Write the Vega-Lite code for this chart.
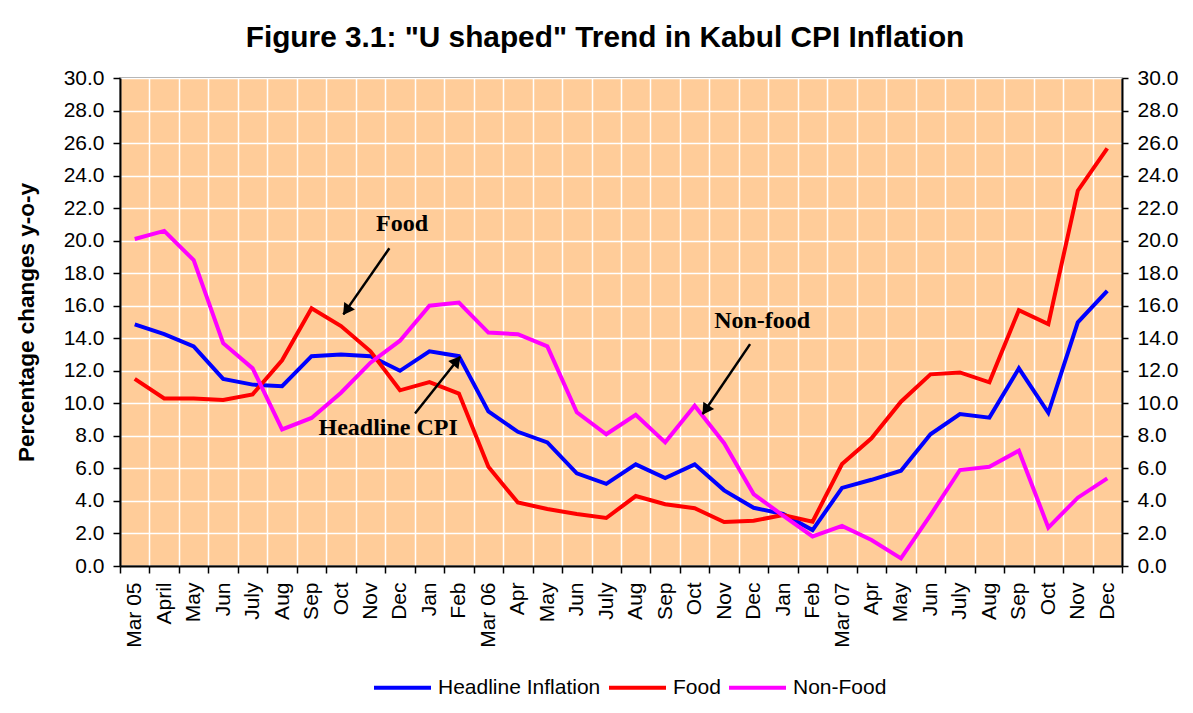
{
  "$schema": "https://vega.github.io/schema/vega-lite/v6.json",
  "width": 1002,
  "height": 488,
  "autosize": {"type": "none"},
  "padding": {"left": 120, "top": 78, "right": 71, "bottom": 147},
  "background": "white",
  "title": {
    "text": "Figure 3.1: \"U shaped\" Trend in Kabul CPI Inflation",
    "font": "Liberation Sans",
    "fontSize": 29.8,
    "fontWeight": "bold",
    "color": "black",
    "anchor": "middle",
    "dx": -16,
    "offset": 14
  },
  "datasets": {
    "cpi": [
      {"i": 0, "Headline Inflation": 14.85, "Food": 11.5, "Non-Food": 20.1},
      {"i": 1, "Headline Inflation": 14.25, "Food": 10.3, "Non-Food": 20.6},
      {"i": 2, "Headline Inflation": 13.5, "Food": 10.3, "Non-Food": 18.8},
      {"i": 3, "Headline Inflation": 11.5, "Food": 10.2, "Non-Food": 13.7},
      {"i": 4, "Headline Inflation": 11.15, "Food": 10.55, "Non-Food": 12.15},
      {"i": 5, "Headline Inflation": 11.05, "Food": 12.65, "Non-Food": 8.4},
      {"i": 6, "Headline Inflation": 12.9, "Food": 15.85, "Non-Food": 9.1},
      {"i": 7, "Headline Inflation": 13.0, "Food": 14.75, "Non-Food": 10.65},
      {"i": 8, "Headline Inflation": 12.9, "Food": 13.2, "Non-Food": 12.5},
      {"i": 9, "Headline Inflation": 12.0, "Food": 10.8, "Non-Food": 13.85},
      {"i": 10, "Headline Inflation": 13.2, "Food": 11.3, "Non-Food": 16.0},
      {"i": 11, "Headline Inflation": 12.9, "Food": 10.6, "Non-Food": 16.2},
      {"i": 12, "Headline Inflation": 9.5, "Food": 6.1, "Non-Food": 14.35},
      {"i": 13, "Headline Inflation": 8.25, "Food": 3.9, "Non-Food": 14.25},
      {"i": 14, "Headline Inflation": 7.6, "Food": 3.5, "Non-Food": 13.5},
      {"i": 15, "Headline Inflation": 5.7, "Food": 3.2, "Non-Food": 9.45},
      {"i": 16, "Headline Inflation": 5.05, "Food": 2.95, "Non-Food": 8.1},
      {"i": 17, "Headline Inflation": 6.25, "Food": 4.3, "Non-Food": 9.3},
      {"i": 18, "Headline Inflation": 5.4, "Food": 3.8, "Non-Food": 7.6},
      {"i": 19, "Headline Inflation": 6.25, "Food": 3.55, "Non-Food": 9.85},
      {"i": 20, "Headline Inflation": 4.65, "Food": 2.7, "Non-Food": 7.55},
      {"i": 21, "Headline Inflation": 3.58, "Food": 2.78, "Non-Food": 4.42},
      {"i": 22, "Headline Inflation": 3.2, "Food": 3.13, "Non-Food": 3.1},
      {"i": 23, "Headline Inflation": 2.21, "Food": 2.72, "Non-Food": 1.82},
      {"i": 24, "Headline Inflation": 4.8, "Food": 6.27, "Non-Food": 2.46},
      {"i": 25, "Headline Inflation": 5.3, "Food": 7.85, "Non-Food": 1.6},
      {"i": 26, "Headline Inflation": 5.86, "Food": 10.1, "Non-Food": 0.47},
      {"i": 27, "Headline Inflation": 8.1, "Food": 11.78, "Non-Food": 3.13},
      {"i": 28, "Headline Inflation": 9.34, "Food": 11.9, "Non-Food": 5.9},
      {"i": 29, "Headline Inflation": 9.12, "Food": 11.29, "Non-Food": 6.1},
      {"i": 30, "Headline Inflation": 12.15, "Food": 15.73, "Non-Food": 7.09},
      {"i": 31, "Headline Inflation": 9.42, "Food": 14.87, "Non-Food": 2.36},
      {"i": 32, "Headline Inflation": 14.98, "Food": 23.07, "Non-Food": 4.2},
      {"i": 33, "Headline Inflation": 16.92, "Food": 25.67, "Non-Food": 5.39}
    ],
    "notes": [
      {"label": "Food", "nx": 9.07, "ny": 21.0},
      {"label": "Headline CPI", "nx": 8.6, "ny": 8.48},
      {"label": "Non-food", "nx": 21.29, "ny": 15.06}
    ],
    "arrows": [
      {"name": "food", "tx": 8.64, "ty": 19.53, "hx": 7.08, "hy": 15.47, "px": 7.18, "py": 15.72},
      {"name": "cpi", "tx": 9.51, "ty": 9.38, "hx": 11.04, "hy": 12.86, "px": 10.93, "py": 12.62},
      {"name": "nonfood", "tx": 20.88, "ty": 13.64, "hx": 19.27, "hy": 9.34, "px": 19.37, "py": 9.59}
    ]
  },
  "resolve": {"axis": {"y": "independent"}},
  "layer": [
    {
      "data": {"name": "cpi"},
      "transform": [
        {"fold": ["Headline Inflation", "Food", "Non-Food"], "as": ["series", "value"]}
      ],
      "mark": {"type": "line", "strokeWidth": 4, "strokeJoin": "miter"},
      "encoding": {
        "x": {
          "field": "i",
          "type": "quantitative",
          "title": null,
          "scale": {"domain": [-0.5, 33.5], "nice": false, "zero": false},
          "axis": {
            "title": null,
            "values": [-0.5, 0.5, 1.5, 2.5, 3.5, 4.5, 5.5, 6.5, 7.5, 8.5, 9.5, 10.5, 11.5, 12.5, 13.5, 14.5, 15.5, 16.5, 17.5, 18.5, 19.5, 20.5, 21.5, 22.5, 23.5, 24.5, 25.5, 26.5, 27.5, 28.5, 29.5, 30.5, 31.5, 32.5, 33.5],
            "tickCount": 100,
            "labelExpr": "datum.value > 33 ? '' : ['Mar 05','April','May','Jun','July','Aug','Sep','Oct','Nov','Dec','Jan','Feb','Mar 06','Apr','May','Jun','July','Aug','Sep','Oct','Nov','Dec','Jan','Feb','Mar 07','Apr','May','Jun','July','Aug','Sep','Oct','Nov','Dec'][datum.value + 0.5]",
            "labelAngle": 270,
            "labelAlign": "right",
            "labelBaseline": "middle",
            "labelOffset": 14.74,
            "labelPadding": 9,
            "labelFlush": false,
            "labelOverlap": false,
            "labelBound": false,
            "tickSize": 7,
            "grid": true
          }
        },
        "y": {
          "field": "value",
          "type": "quantitative",
          "scale": {"domain": [0, 30], "nice": false, "zero": true},
          "axis": {
            "orient": "left",
            "title": "Percentage changes y-o-y",
            "titleFontSize": 22.5,
            "titleFontWeight": "bold",
            "titleFont": "Liberation Sans",
            "titleColor": "black",
            "titlePadding": 25,
            "values": [0, 2, 4, 6, 8, 10, 12, 14, 16, 18, 20, 22, 24, 26, 28, 30],
            "tickCount": 100,
            "format": ".1f",
            "tickSize": 7,
            "labelPadding": 9,
            "grid": true
          }
        },
        "color": {
          "field": "series",
          "type": "nominal",
          "scale": {"domain": ["Headline Inflation", "Food", "Non-Food"], "range": ["#0000FF", "#FF0000", "#FF00FF"]},
          "legend": {
            "orient": "none",
            "legendX": 252,
            "legendY": 579,
            "direction": "horizontal",
            "title": null,
            "symbolType": "stroke",
            "symbolSize": 3249,
            "symbolStrokeWidth": 4,
            "labelFontSize": 21,
            "labelFont": "Liberation Sans",
            "labelColor": "black",
            "labelLimit": 400,
            "labelOffset": 5,
            "columnPadding": 0,
            "padding": 0
          }
        }
      }
    },
    {
      "data": {"name": "notes"},
      "mark": {"type": "text", "font": "Liberation Serif", "fontWeight": "bold", "fontSize": 24, "color": "black", "align": "center", "baseline": "middle"},
      "encoding": {
        "x": {"field": "nx", "type": "quantitative", "title": null},
        "y": {
          "field": "ny",
          "type": "quantitative",
          "axis": {
            "orient": "right",
            "title": null,
            "values": [0, 2, 4, 6, 8, 10, 12, 14, 16, 18, 20, 22, 24, 26, 28, 30],
            "tickCount": 100,
            "format": ".1f",
            "tickSize": 6,
            "labelPadding": 9,
            "grid": false
          }
        },
        "text": {"field": "label"}
      }
    },
    {
      "data": {"name": "arrows"},
      "mark": {"type": "rule", "color": "black", "strokeWidth": 2.5},
      "encoding": {
        "x": {"field": "tx", "type": "quantitative", "title": null},
        "y": {"field": "ty", "type": "quantitative", "axis": null},
        "x2": {"field": "hx"},
        "y2": {"field": "hy"}
      }
    },
    {
      "data": {"name": "arrows"},
      "transform": [{"filter": "datum.name == 'food'"}],
      "mark": {"type": "point", "shape": "triangle-up", "filled": true, "color": "black", "opacity": 1, "size": 170, "angle": 215},
      "encoding": {
        "x": {"field": "px", "type": "quantitative", "title": null},
        "y": {"field": "py", "type": "quantitative", "axis": null}
      }
    },
    {
      "data": {"name": "arrows"},
      "transform": [{"filter": "datum.name == 'cpi'"}],
      "mark": {"type": "point", "shape": "triangle-up", "filled": true, "color": "black", "opacity": 1, "size": 170, "angle": 38.5},
      "encoding": {
        "x": {"field": "px", "type": "quantitative", "title": null},
        "y": {"field": "py", "type": "quantitative", "axis": null}
      }
    },
    {
      "data": {"name": "arrows"},
      "transform": [{"filter": "datum.name == 'nonfood'"}],
      "mark": {"type": "point", "shape": "triangle-up", "filled": true, "color": "black", "opacity": 1, "size": 170, "angle": 214},
      "encoding": {
        "x": {"field": "px", "type": "quantitative", "title": null},
        "y": {"field": "py", "type": "quantitative", "axis": null}
      }
    }
  ],
  "config": {
    "view": {"fill": "#FFCC99", "stroke": "#808080", "strokeWidth": 1.5},
    "font": "Liberation Sans",
    "axis": {
      "labelFont": "Liberation Sans",
      "labelFontSize": 21,
      "labelColor": "black",
      "domainColor": "black",
      "domainWidth": 2,
      "tickColor": "black",
      "tickWidth": 1.5,
      "gridColor": "white",
      "gridWidth": 1.5,
      "gridOpacity": 1
    }
  }
}
